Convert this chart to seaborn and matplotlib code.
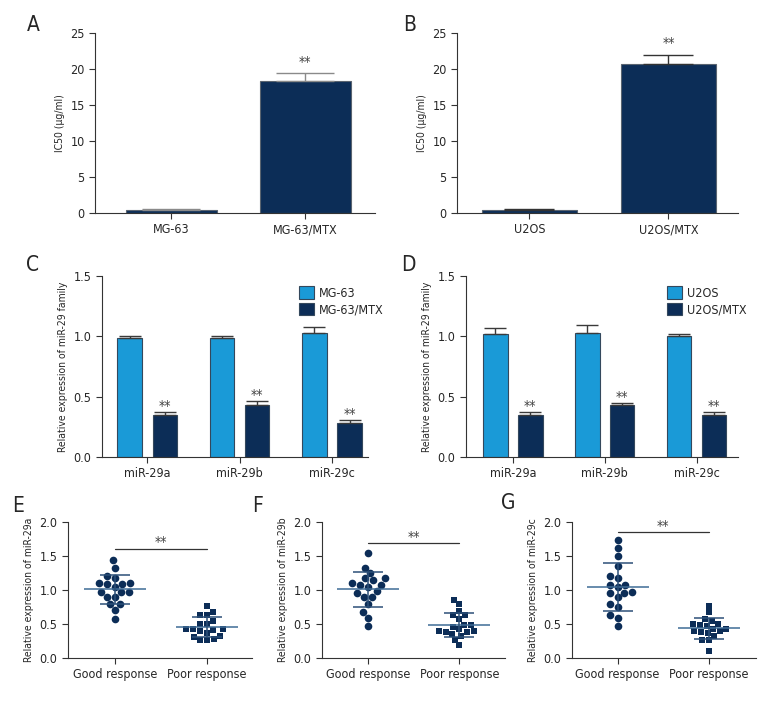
import numpy as np
import pandas as pd
import matplotlib
matplotlib.use("Agg")
import matplotlib.pyplot as plt
import seaborn as sns

sns.set_style("ticks")
plt.rcParams['font.family'] = ['Liberation Sans Narrow', 'DejaVu Sans']
plt.rcParams['font.stretch'] = 'condensed'

LIGHT = "#1a9ad7"
NAVY = "#0c2d57"

# ---- data ----
ic50_mg_cats = ["MG-63", "MG-63/MTX"]
ic50_mg_vals = [0.4, 18.3]
ic50_mg_err = [0.2, 1.1]

ic50_u2_cats = ["U2OS", "U2OS/MTX"]
ic50_u2_vals = [0.4, 20.7]
ic50_u2_err = [0.2, 1.2]

mirnas = ["miR-29a", "miR-29b", "miR-29c"]
mg63_expr = [0.99, 0.99, 1.03]
mg63_err = [0.015, 0.015, 0.05]
mg63mtx_expr = [0.35, 0.43, 0.28]
mg63mtx_err = [0.02, 0.03, 0.025]

u2os_expr = [1.02, 1.03, 1.00]
u2os_err = [0.045, 0.06, 0.02]
u2osmtx_expr = [0.35, 0.43, 0.35]
u2osmtx_err = [0.02, 0.015, 0.02]

resp_cats = ["Good response", "Poor response"]
e_good = [1.44, 1.33, 1.21, 1.17, 1.10, 1.09, 1.09, 1.11, 1.05, 0.97, 0.97, 0.97,
          0.90, 0.90, 0.79, 0.79, 0.70, 0.57]
e_poor = [0.77, 0.68, 0.63, 0.63, 0.54, 0.50, 0.50, 0.39, 0.41, 0.42, 0.42, 0.43,
          0.33, 0.31, 0.37, 0.28, 0.27, 0.27]
f_good = [1.54, 1.33, 1.17, 1.25, 1.14, 1.17, 1.08, 1.10, 1.05, 1.07, 0.98, 0.95,
          0.89, 0.89, 0.79, 0.68, 0.59, 0.47]
f_poor = [0.86, 0.79, 0.69, 0.63, 0.63, 0.58, 0.49, 0.46, 0.49, 0.40, 0.38, 0.36,
          0.32, 0.38, 0.39, 0.42, 0.27, 0.19]
g_good = [1.74, 1.62, 1.50, 1.36, 1.20, 1.18, 1.08, 1.08, 1.04, 0.97, 0.95, 0.96,
          0.90, 0.80, 0.75, 0.63, 0.59, 0.47]
g_poor = [0.77, 0.67, 0.58, 0.54, 0.50, 0.47, 0.50, 0.49, 0.42, 0.39, 0.40, 0.43,
          0.37, 0.33, 0.38, 0.27, 0.27, 0.11]

W, H = 780, 708
fig = plt.figure(figsize=(W / 100, H / 100), dpi=100)


def px_axes(left, top, right, bottom):
    return fig.add_axes([left / W, (H - bottom) / H, (right - left) / W, (bottom - top) / H])


def style(ax, ylabel):
    sns.despine(ax=ax)
    for s in ["left", "bottom"]:
        ax.spines[s].set_linewidth(0.8)
        ax.spines[s].set_color("#333333")
    ax.tick_params(axis="both", labelsize=9, width=0.8, length=4, color="#333333")
    ax.set_xlabel("")
    ax.set_ylabel(ylabel, fontsize=7.5)


def ic50_panel(ax, cats, vals, errs, ecolor, capsize, star_y, xlim):
    sns.barplot(x=cats, y=vals, color=NAVY, width=0.68, errorbar=None, saturation=1,
                edgecolor="#5a6470", linewidth=0.8, ax=ax)
    bars = ax.containers[0]
    xs = [b.get_x() + b.get_width() / 2 for b in bars]
    ax.errorbar(xs, vals, yerr=[np.zeros(len(errs)), errs], fmt="none",
                ecolor=ecolor, elinewidth=1.0, capsize=capsize, capthick=1.0, zorder=1)
    ax.text(xs[1], star_y, "**", ha="center", va="center", fontsize=10, color="#444444")
    ax.set_ylim(0, 25)
    ax.set_yticks([0, 5, 10, 15, 20, 25])
    ax.set_xlim(*xlim)
    style(ax, "IC50 (μg/ml)")


def expr_panel(ax, labels, v1, e1, v2, e2, xlim):
    df = pd.DataFrame({
        "mirna": mirnas * 2,
        "group": [labels[0]] * 3 + [labels[1]] * 3,
        "value": v1 + v2,
    })
    sns.barplot(data=df, x="mirna", y="value", hue="group", palette=[LIGHT, NAVY],
                width=0.76, gap=0.3, errorbar=None, saturation=1, edgecolor="#34485c",
                linewidth=0.8, ax=ax)
    for cont, vals, errs in zip(ax.containers, [v1, v2], [e1, e2]):
        xs = [b.get_x() + b.get_width() / 2 for b in cont]
        ax.errorbar(xs, vals, yerr=[np.zeros(3), errs], fmt="none", ecolor="#3a3a3a",
                    elinewidth=1.0, capsize=8, capthick=1.0, zorder=1)
    xs2 = [b.get_x() + b.get_width() / 2 for b in ax.containers[1]]
    for x, v, e in zip(xs2, v2, e2):
        ax.text(x, v + e + 0.05, "**", ha="center", va="center", fontsize=10, color="#444444")
    ax.set_ylim(0, 1.5)
    ax.set_yticks([0, 0.5, 1.0, 1.5])
    ax.set_yticklabels(["0.0", "0.5", "1.0", "1.5"])
    ax.set_xlim(*xlim)
    ax.legend(loc="upper left", bbox_to_anchor=(0.72, 0.97), frameon=False,
              fontsize=9, handlelength=1.2, handleheight=1.2, handletextpad=0.4,
              labelspacing=0.2, borderaxespad=0)
    style(ax, "Relative expression of miR-29 family")


def scatter_panel(ax, good, poor, ylabel, sig_y, xlim):
    sns.swarmplot(x=["Good response"] * len(good), y=good, order=resp_cats, color=NAVY,
                  marker="o", size=5.5, ax=ax, zorder=2)
    sns.swarmplot(x=["Poor response"] * len(poor), y=poor, order=resp_cats, color=NAVY,
                  marker="s", size=4.8, ax=ax, zorder=2)
    for i, vals in enumerate([good, poor]):
        m = np.mean(vals)
        sd = np.std(vals, ddof=1)
        ax.hlines(m, i - 0.34, i + 0.34, color="#3f6c96", linewidth=1.1, zorder=3)
        ax.errorbar(i, m, yerr=sd, fmt="none", ecolor="#2c5078", elinewidth=1.1,
                    capsize=11, capthick=1.1, zorder=3)
    ax.plot([0, 1], [sig_y, sig_y], color="#333333", linewidth=0.9)
    ax.text(0.5, sig_y + 0.09, "**", ha="center", va="center", fontsize=10, color="#444444")
    ax.set_ylim(0, 2.0)
    ax.set_yticks([0, 0.5, 1.0, 1.5, 2.0])
    ax.set_yticklabels(["0.0", "0.5", "1.0", "1.5", "2.0"])
    ax.set_xlim(*xlim)
    style(ax, ylabel)


axA = px_axes(95, 33, 375, 213)
ic50_panel(axA, ic50_mg_cats, ic50_mg_vals, ic50_mg_err, "#8a8a8a", 21, 21.0, (-0.57, 1.52))
axB = px_axes(457, 33, 738, 213)
ic50_panel(axB, ic50_u2_cats, ic50_u2_vals, ic50_u2_err, "#333333", 18, 23.6, (-0.52, 1.50))

axC = px_axes(102, 276, 368, 457)
expr_panel(axC, ["MG-63", "MG-63/MTX"], mg63_expr, mg63_err, mg63mtx_expr, mg63mtx_err, (-0.49, 2.39))
axD = px_axes(466, 276, 738, 457)
expr_panel(axD, ["U2OS", "U2OS/MTX"], u2os_expr, u2os_err, u2osmtx_expr, u2osmtx_err, (-0.51, 2.45))

axE = px_axes(68, 522, 252, 658)
scatter_panel(axE, e_good, e_poor, "Relative expression of miR-29a", 1.61, (-0.51, 1.49))
axF = px_axes(322, 522, 505, 658)
scatter_panel(axF, f_good, f_poor, "Relative expression of miR-29b", 1.69, (-0.5, 1.5))
axG = px_axes(572, 522, 756, 658)
scatter_panel(axG, g_good, g_poor, "Relative expression of miR-29c", 1.85, (-0.5, 1.52))

for letter, x, y in [("A", 33, 25), ("B", 410, 25), ("C", 33, 265), ("D", 408, 265),
                     ("E", 18, 506), ("F", 258, 506), ("G", 508, 503)]:
    fig.text(x / W, 1 - y / H, letter, fontsize=15, ha="center", va="center")

fig.savefig("out.png", dpi=100)
